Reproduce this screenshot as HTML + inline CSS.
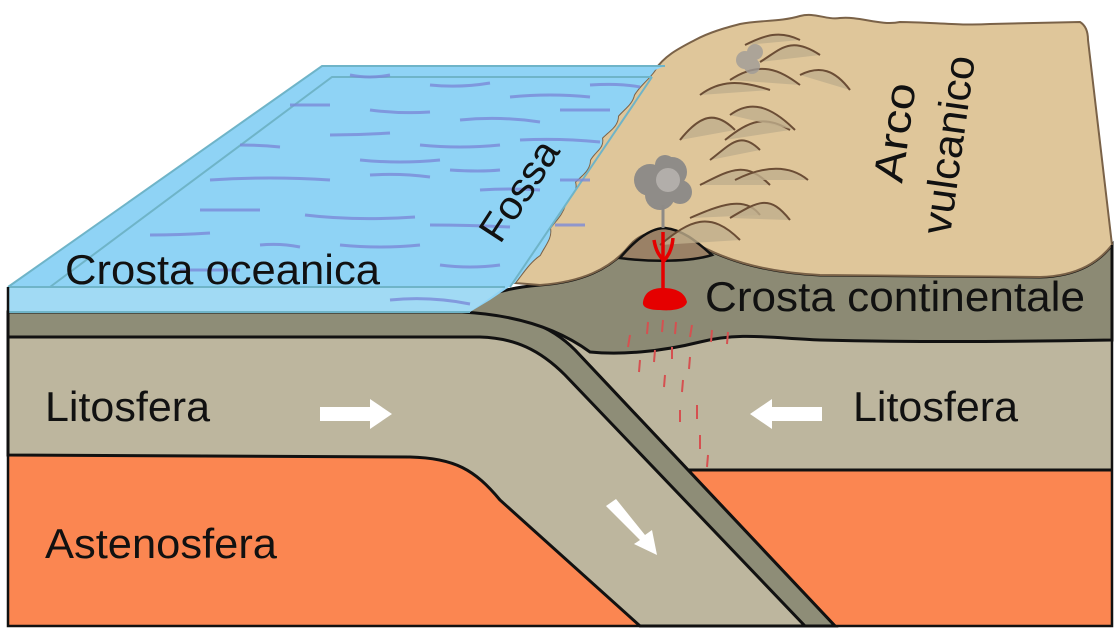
<!DOCTYPE html>
<html><head><meta charset="utf-8"><style>
html,body{margin:0;padding:0;background:#fff;width:1114px;height:632px;overflow:hidden}
svg{display:block}
text{font-family:"Liberation Sans",sans-serif;fill:#111}
</style></head><body>
<svg width="1114" height="632" viewBox="0 0 1114 632" xmlns="http://www.w3.org/2000/svg">
<rect x="8" y="440" width="1104" height="186" fill="#fb8651"/>
<!-- right lithosphere (extends under slab) -->
<path d="M480,312 L1112,312 L1112,470 L600,470 Z" fill="#bdb69e"/>
<path d="M688,470 L1112,470" stroke="#111" stroke-width="3"/>
<!-- left lithosphere + slab -->
<path d="M8,312 L470,312 C520,314 550,325 575,350 L835,626 L640,626 L500,500 C475,470 455,458 410,457 L8,455 Z" fill="#bdb69e" stroke="#111" stroke-width="3"/>
<path d="M8,312 L470,312 C520,314 550,325 575,350 L835,626 L805,626 L565,375 C540,350 515,338 480,337 L8,337 Z" fill="#8e8d77" stroke="#111" stroke-width="3"/>
<!-- continental crust -->
<path d="M462,312 C480,295 505,288 540,285 C580,282 610,270 630,245 C645,228 670,228 690,240 C720,258 760,272 820,275 L1040,277 C1080,276 1100,260 1112,245 L1112,340 C1000,342 900,342 820,340 C770,338 740,332 700,342 C660,352 620,355 590,352 C560,330 520,315 462,312 Z" fill="#8c8a74" stroke="#111" stroke-width="3"/>
<!-- land surface -->
<path d="M515,283 C525,270 530,262 540,255 C545,245 552,238 550,228 C556,220 562,215 565,205 C570,195 578,192 575,182 C582,175 590,170 590,160 C596,150 604,148 602,138 C610,130 618,126 618,116 C625,108 632,104 634,95 C640,85 648,80 655,70 C665,55 680,48 695,40 C710,32 725,28 740,24 C760,20 780,22 800,16 C815,12 825,20 840,18 C860,16 880,26 900,22 C930,22 960,26 990,24 L1080,22 C1085,25 1088,30 1088,40 L1112,245 C1100,260 1080,276 1040,277 L820,275 C760,272 720,258 690,240 C670,228 645,228 630,245 C610,270 580,282 540,285 Z" fill="#dfc69a" stroke="#7a6248" stroke-width="2"/>
<path d="M620,258 C635,240 650,228 665,228 C685,230 700,245 712,255 C690,262 650,262 620,258 Z" fill="#9a8166" stroke="#111" stroke-width="2.5"/>
<!-- mountains -->
<g fill="#bfae8c" stroke="#6b4d35" stroke-width="2" fill-opacity="0.8">
<path d="M660,245 C690,220 710,210 740,240"/>
<path d="M690,218 C720,205 745,195 760,215"/>
<path d="M730,218 C760,200 770,195 790,220"/>
<path d="M700,185 C730,170 745,160 770,185"/>
<path d="M735,180 C765,165 790,165 808,180"/>
<path d="M710,160 C730,145 740,130 760,150"/>
<path d="M680,140 C700,115 715,110 735,130"/>
<path d="M725,140 C750,120 765,115 790,130"/>
<path d="M730,115 C750,100 770,105 795,130"/>
<path d="M700,95 C720,80 740,80 770,90"/>
<path d="M730,80 C760,60 780,70 800,85"/>
<path d="M760,62 C780,50 790,35 820,55"/>
<path d="M800,75 C820,65 835,70 850,90"/>
<path d="M745,45 C765,35 780,30 800,40"/>
</g>
<!-- ash clouds -->
<g fill="#8f8c88">
<circle cx="650" cy="180" r="16"/><circle cx="672" cy="172" r="15"/><circle cx="660" cy="195" r="15"/><circle cx="680" cy="192" r="12"/><circle cx="665" cy="165" r="10"/>
</g>
<ellipse cx="668" cy="180" rx="12" ry="12" fill="#b2aeaa"/>
<line x1="663" y1="205" x2="663" y2="228" stroke="#8d8a86" stroke-width="3"/>
<g fill="#a09c98" opacity="0.8"><circle cx="745" cy="60" r="9"/><circle cx="755" cy="52" r="8"/><circle cx="752" cy="66" r="8"/></g>
<!-- magma -->
<path d="M663,232 L663,295 M654,240 C656,252 660,256 663,260 M673,238 C672,250 668,256 663,262" stroke="#e50000" stroke-width="3.5" fill="none"/>
<path d="M643,302 C645,290 655,288 663,288 C675,288 685,292 687,302 C685,310 670,311 660,310 C648,310 642,307 643,302 Z" fill="#e50000"/>
<g stroke="#d55050" stroke-width="2">
<path d="M630,335 l-2,12 M648,322 l-1,12 M663,320 l-1,12 M676,322 l-1,12 M692,325 l-2,12 M712,330 l-1,12 M728,332 l-1,12 M640,360 l-1,12 M655,350 l-1,12 M672,347 l0,12 M690,357 l-1,12 M665,375 l-1,12 M683,380 l-1,12 M697,405 l0,14 M680,410 l0,12 M700,435 l0,14 M708,455 l-1,12"/>
</g>
<!-- water -->
<path d="M8,287 L322,66 L665,66 L655,70 C648,80 640,85 634,95 C632,104 625,108 618,116 C618,126 610,130 602,138 C604,148 596,150 590,160 C590,170 582,175 575,182 C578,192 570,195 565,205 C562,215 556,220 550,228 C552,238 545,245 540,255 C530,262 525,270 515,283 L490,300 L470,312 L8,312 Z" fill="#8fd3f5"/>
<path d="M8,287 L505,287 L470,312 L8,312 Z" fill="#a8ddf4" opacity="0.7"/>
<path d="M8,287 L322,66 L665,66 M8,287 L505,287 M50,287 L332,77 L652,77 M8,312 L470,312 M510,287 L652,77" stroke="#6fb4c8" stroke-width="2" fill="none"/>
<path d="M8,287 L8,312" stroke="#6fb4c8" stroke-width="2"/>
<g stroke="#7a8ad8" stroke-width="3" fill="none" opacity="0.8">
<path d="M350,75 q20,4 40,0 M430,85 q30,3 60,-2 M510,97 q40,-4 80,0 M590,85 q30,-2 50,2 M290,105 q20,0 40,0 M370,110 q30,4 60,2 M460,120 q40,-4 80,2 M560,110 q30,0 50,0 M330,135 q30,0 60,-2 M420,145 q40,4 80,0 M520,140 q40,-2 80,2 M240,145 q20,0 40,2 M370,175 q30,-2 60,2 M450,170 q30,2 50,0 M210,180 q60,-4 120,0 M360,160 q40,4 80,0 M480,190 q30,-2 60,0 M200,210 q30,0 60,0 M305,215 q50,6 110,2 M430,225 q40,0 80,2 M150,235 q30,0 60,-2 M260,245 q20,-2 40,2 M340,245 q40,4 80,0 M440,265 q30,4 60,0 M180,270 q30,0 60,0 M390,300 q40,-4 80,4 M560,180 q20,0 30,0 M555,225 q20,0 30,0"/>
</g>
<g fill="#fff">
<path d="M320,407 L370,407 L370,399 L392,414 L370,429 L370,421 L320,421 Z"/>
<path d="M822,407 L772,407 L772,399 L750,414 L772,429 L772,421 L822,421 Z"/>
<path d="M606,506 L616,499 L645,535 L652,530 L657,555 L634,544 L640,540 Z"/>
</g>
<path d="M8,287 L8,626 L1112,626 L1112,245" stroke="#111" stroke-width="2.5" fill="none"/>
<text x="65" y="284" font-size="42" textLength="315" lengthAdjust="spacingAndGlyphs">Crosta oceanica</text>
<text x="0" y="0" font-size="40" textLength="112" lengthAdjust="spacingAndGlyphs" transform="translate(500,245) rotate(-57)">Fossa</text>
<text x="0" y="0" font-size="42" textLength="100" lengthAdjust="spacingAndGlyphs" transform="translate(902,184) rotate(-82)">Arco</text>
<text x="0" y="0" font-size="42" textLength="180" lengthAdjust="spacingAndGlyphs" transform="translate(950,236) rotate(-82)">vulcanico</text>
<text x="705" y="311" font-size="42" textLength="380" lengthAdjust="spacingAndGlyphs">Crosta continentale</text>
<text x="45" y="421" font-size="42" textLength="165" lengthAdjust="spacingAndGlyphs">Litosfera</text>
<text x="853" y="421" font-size="42" textLength="165" lengthAdjust="spacingAndGlyphs">Litosfera</text>
<text x="45" y="558" font-size="42" textLength="232" lengthAdjust="spacingAndGlyphs">Astenosfera</text>
</svg>
</body></html>
